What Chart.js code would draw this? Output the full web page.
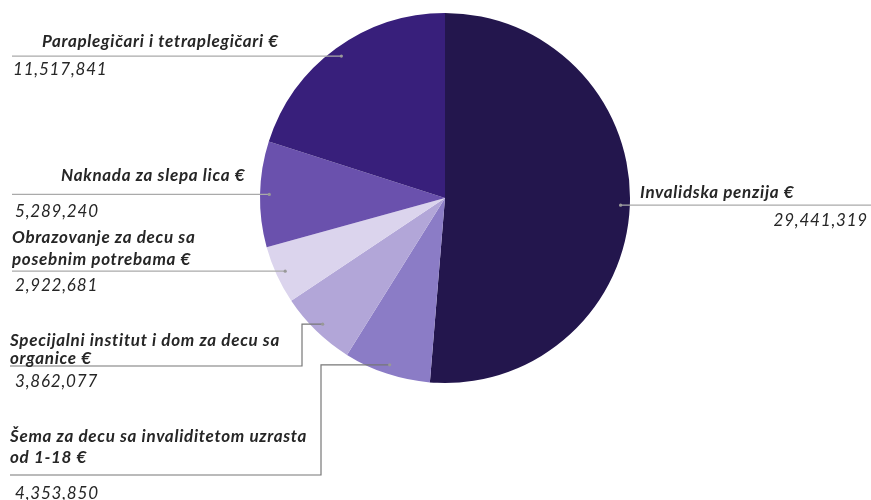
<!DOCTYPE html>
<html lang="sr">
<head>
    <meta charset="UTF-8">
    <title>Invalidska davanja</title>
    <script src="https://cdn.jsdelivr.net/npm/chart.js"></script>
    <style>
        html, body { margin: 0; padding: 0; background: #fff; }
        #wrap { width: 871px; height: 500px; }
    </style>
</head>
<body>
    <div id="wrap"><canvas id="grafico"></canvas></div>

    <script>
        // podaci
        const kategorije = [
            ['Invalidska penzija €'],
            ['Šema za decu sa invaliditetom uzrasta', 'od 1-18 €'],
            ['Specijalni institut i dom za decu sa', 'organice €'],
            ['Obrazovanje za decu sa', 'posebnim potrebama €'],
            ['Naknada za slepa lica €'],
            ['Paraplegičari i tetraplegičari €']
        ];
        const iznosi = [29441319, 4353850, 3862077, 2922681, 5289240, 11517841];
        const boje = ['#23164d', '#8b7cc6', '#b2a6d8', '#dbd4ed', '#6a51ad', '#381f7b'];

        // raspored natpisa (x natpisa, y redova, y linije, lakat)
        const raspored = [
            { strana: 'desno', nameX: 640, nameY: [193], lineY: 206, valX: 868, valY: 221 },
            { nameX: 10, nameY: [437, 458], lineY: 475, lakatX: 321, valX: 15, valY: 494 },
            { nameX: 10, nameY: [341, 359], lineY: 366, lakatX: 302, valX: 15, valY: 382 },
            { nameX: 12, nameY: [238, 260], lineY: 272, valX: 15, valY: 286 },
            { nameX: 61, nameY: [176], lineY: 196, valX: 15, valY: 212 },
            { nameX: 42, nameY: [42], lineY: 57, valX: 13, valY: 70 }
        ];

        const natpisi = {
            id: 'natpisi',
            afterDraw(chart) {
                const ctx = chart.ctx;
                const meta = chart.getDatasetMeta(0);
                meta.data.forEach(function(arc, i) {
                    const p = arc.getProps(['x', 'y', 'startAngle', 'endAngle', 'outerRadius'], true);
                    const ugao = (p.startAngle + p.endAngle) / 2;
                    const tx = p.x + Math.cos(ugao) * p.outerRadius * 0.95;
                    const ty = p.y + Math.sin(ugao) * p.outerRadius * 0.95;
                    const r = raspored[i];

                    ctx.save();
                    ctx.lineWidth = 1.2;
                    ctx.beginPath();
                    ctx.moveTo(tx, ty);
                    if (r.lakatX !== undefined) {
                        ctx.strokeStyle = '#777';
                        ctx.lineTo(r.lakatX, ty);
                        ctx.lineTo(r.lakatX, r.lineY);
                        ctx.lineTo(10, r.lineY);
                    } else if (r.strana === 'desno') {
                        ctx.strokeStyle = '#aaa';
                        ctx.lineTo(871, ty);
                    } else {
                        ctx.strokeStyle = '#aaa';
                        ctx.lineTo(12, ty);
                    }
                    ctx.stroke();

                    ctx.fillStyle = '#999';
                    ctx.beginPath();
                    ctx.arc(tx, ty, 1.6, 0, Math.PI * 2);
                    ctx.fill();

                    ctx.fillStyle = '#262626';
                    ctx.textBaseline = 'middle';
                    ctx.textAlign = 'left';
                    ctx.font = 'italic bold 17px Lato';
                    ctx.letterSpacing = '0.7px';
                    kategorije[i].forEach(function(red, k) {
                        ctx.fillText(red, r.nameX, r.nameY[k]);
                    });

                    ctx.font = 'italic 17px Lato';
                    ctx.letterSpacing = '0.8px';
                    ctx.textAlign = r.strana === 'desno' ? 'right' : 'left';
                    ctx.fillText(iznosi[i].toLocaleString('en-US'), r.valX, r.valY);
                    ctx.restore();
                });
            }
        };

        new Chart(document.getElementById('grafico'), {
            type: 'pie',
            data: {
                labels: kategorije.map(k => k.join(' ')),
                datasets: [{
                    data: iznosi,
                    backgroundColor: boje,
                    borderWidth: 0
                }]
            },
            options: {
                responsive: true,
                maintainAspectRatio: false,
                animation: false,
                layout: { padding: { top: 13, bottom: 117, left: 20, right: 1 } },
                plugins: {
                    legend: { display: false },
                    tooltip: { enabled: false }
                }
            },
            plugins: [natpisi]
        });
    </script>
</body>
</html>
